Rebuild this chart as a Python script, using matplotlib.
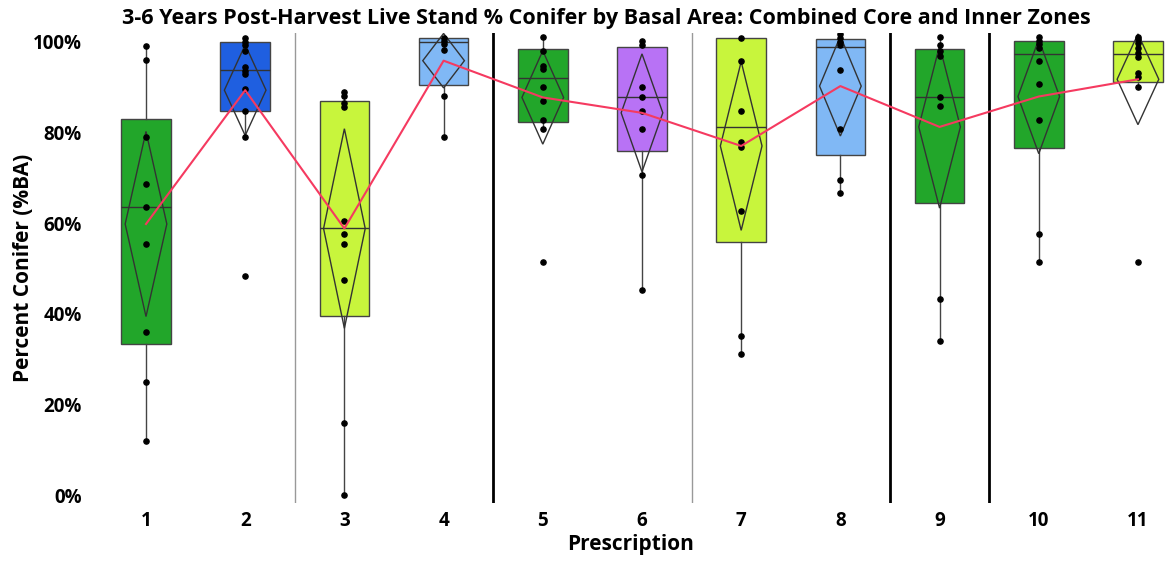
import matplotlib.pyplot as plt
from matplotlib.patches import Polygon

plt.rcParams['font.family'] = ['Open Sans', 'DejaVu Sans']

groups = [1, 2, 3, 4, 5, 6, 7, 8, 9, 10, 11]

q1 = [33.4, 84.8, 39.5, 90.5, 82.3, 75.9, 55.9, 75.1, 64.5, 76.5, 91.2]
med = [63.6, 93.8, 58.9, 100.0, 91.9, 87.7, 81.1, 98.8, 87.9, 97.3, 97.3]
q3 = [83.0, 100.0, 87.0, 100.8, 98.4, 98.8, 100.8, 100.6, 98.4, 100.1, 100.1]
whislo = [11.9, 78.9, 0.0, 78.9, 80.8, 45.3, 31.1, 66.6, 34.1, 51.5, 89.9]
whishi = [99.0, 100.8, 89.0, 100.8, 101.0, 100.2, 100.9, 101.0, 101.0, 101.0, 101.0]

means = [59.8, 89.3, 58.8, 95.8, 87.7, 84.3, 77.0, 90.2, 81.2, 87.9, 91.7]
ci = [20.4, 10.0, 22.0, 6.0, 10.3, 13.0, 18.6, 11.0, 17.9, 12.6, 10.0]

points = [
    [99.0, 95.9, 79.0, 68.7, 63.5, 55.5, 36.1, 25.0, 11.9],
    [100.8, 100.0, 99.3, 98.0, 94.3, 93.6, 92.8, 89.6, 84.8, 78.9, 48.3],
    [89.0, 88.0, 86.5, 85.6, 60.5, 57.6, 55.5, 47.4, 16.0, 0.0],
    [100.8, 100.2, 99.5, 98.1, 88.0, 78.9],
    [101.0, 98.0, 94.7, 93.9, 89.9, 86.9, 82.8, 80.8, 51.5],
    [100.2, 99.2, 89.9, 87.7, 84.8, 80.8, 70.7, 45.3],
    [100.9, 95.8, 84.8, 77.8, 76.8, 62.6, 35.1, 31.1],
    [101.6, 100.8, 100.0, 99.3, 93.8, 80.7, 69.5, 66.6],
    [101.0, 99.3, 98.0, 96.8, 87.7, 85.7, 43.2, 34.1],
    [101.0, 100.2, 99.5, 98.6, 95.8, 90.7, 82.7, 57.5, 51.5],
    [101.0, 100.5, 99.6, 98.6, 97.6, 96.6, 93.0, 92.3, 89.9, 51.5],
]

colors = ['#22a62a', '#1f5fe0', '#c8f53c', '#80b8f5', '#22a62a', '#b872f5',
          '#c8f53c', '#80b8f5', '#22a62a', '#22a62a', '#c8f53c']

thin_seps = [2.5, 6.5]
thick_seps = [4.5, 8.5, 9.5]

fig = plt.figure(figsize=(11.71, 5.64), dpi=100)
ax = fig.add_axes([90/1171, 61/564, 1081/1171, 470/564])

stats = []
for i in range(len(groups)):
    stats.append(dict(q1=q1[i], med=med[i], q3=q3[i], whislo=whislo[i],
                      whishi=whishi[i], fliers=[]))

bp = ax.bxp(stats, positions=groups, widths=0.5, patch_artist=True,
            showcaps=False, showfliers=False,
            boxprops=dict(edgecolor='#444444', linewidth=1),
            medianprops=dict(color='#333333', linewidth=1),
            whiskerprops=dict(color='#444444', linewidth=1), zorder=2)
for patch, c in zip(bp['boxes'], colors):
    patch.set_facecolor(c)

# mean diamonds
for x, m, h in zip(groups, means, ci):
    d = Polygon([[x - 0.21, m], [x, m + h], [x + 0.21, m], [x, m - h]],
                closed=True, fill=False, edgecolor='#333333', linewidth=1, zorder=3)
    ax.add_patch(d)

for x, pts in zip(groups, points):
    ax.scatter([x] * len(pts), pts, s=14, color='black', zorder=4)

ax.plot(groups, means, color='#f53a60', linewidth=1.5, zorder=5)

for s in thin_seps:
    ax.axvline(s, color='#999999', linewidth=1, zorder=1)
for s in thick_seps:
    ax.axvline(s, color='black', linewidth=2, zorder=1)

ax.set_xlim(0.4355, 11.333)
ax.set_ylim(-1.7, 101.9)
ax.set_yticks([0, 20, 40, 60, 80, 100])
ax.set_yticklabels(['0%', '20%', '40%', '60%', '80%', '100%'])
ax.set_xticks(groups)
ax.set_xticklabels([str(g) for g in groups])
ax.tick_params(length=0, labelsize=13.5, pad=6)
for lab in ax.get_xticklabels() + ax.get_yticklabels():
    lab.set_fontweight('bold')
for sp in ax.spines.values():
    sp.set_visible(False)

ax.set_xlabel('Prescription', fontsize=15, fontweight='bold', labelpad=2)
ax.set_ylabel('Percent Conifer (%BA)', fontsize=15, fontweight='bold')
ax.yaxis.set_label_coords(-56/1081, 0.5)
fig.text(0.5175, 0.967, '3-6 Years Post-Harvest Live Stand % Conifer by Basal Area: Combined Core and Inner Zones',
         ha='center', va='center', fontsize=15.5, fontweight='bold')

fig.savefig('out.png', dpi=100)
